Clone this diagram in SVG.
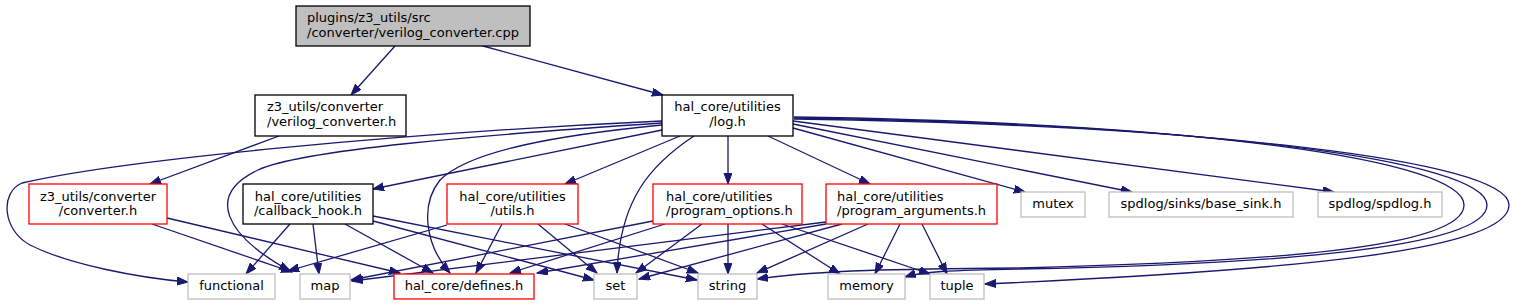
<svg xmlns="http://www.w3.org/2000/svg" width="1515" height="305" viewBox="0 0 1515 305">
<style>
text{font-family:"DejaVu Sans","Liberation Sans",sans-serif;font-size:13px;fill:#000}
.c{text-anchor:middle}
.box{fill:#fff;stroke-width:1.3}
.root{fill:#bfbfbf;stroke:#000;stroke-width:1.3}
.blk{stroke:#000}
.red{stroke:#ff0000}
.gry{stroke:#bfbfbf}
#edges path{fill:none;stroke:#191970;stroke-width:1.3;marker-end:url(#a)}
</style>
<defs>
<marker id="a" markerWidth="12" markerHeight="9" refX="11" refY="4" orient="auto" markerUnits="userSpaceOnUse">
<path d="M0,0 L11,4 L0,8 z" fill="#191970" stroke="#191970" stroke-width="1"/>
</marker>
</defs>
<g id="edges">
<path d="M395,46 L351,95"/>
<path d="M483,46 L663,95"/>
<path d="M279,136 L150,184"/>
<path d="M662,130 L373,189"/>
<path d="M680,136 L565,184"/>
<path d="M728,136 L728,184"/>
<path d="M768,136 L870,184"/>
<path d="M793,128 L1025,192"/>
<path d="M793,124 L1132,192"/>
<path d="M793,121 L1334,192"/>
<path d="M694,136 C650,165 620,200 617,273"/>
<path d="M662,125 C560,135 470,150 440,180 C420,205 425,245 450,273"/>
<path d="M662,123 C480,135 300,150 258,170 C205,195 225,235 290,271"/>
<path d="M662,121 C400,133 120,160 22,183 C0,192 2,230 30,245 C70,265 140,278 188,282"/>
<path d="M794,117 C1200,123 1464,160 1464,205 C1464,250 1250,262 1020,268 C900,269 820,270 757,279"/>
<path d="M794,118 C1200,124 1487,160 1487,205 C1487,250 1250,265 1020,269 C950,270 920,272 905,277"/>
<path d="M794,119 C1200,125 1509,160 1509,205 C1509,250 1300,270 985,284"/>
<path d="M152,224 L292,272"/>
<path d="M167,218 L400,273"/>
<path d="M290,224 L246,274"/>
<path d="M313,224 L319,274"/>
<path d="M345,224 L433,273"/>
<path d="M373,221 L594,280"/>
<path d="M373,216 L697,280"/>
<path d="M447,225 L288,271"/>
<path d="M502,224 L476,273"/>
<path d="M538,224 L597,273"/>
<path d="M565,224 L698,273"/>
<path d="M653,221 L351,280"/>
<path d="M665,224 L510,273"/>
<path d="M702,224 L636,273"/>
<path d="M728,224 L728,274"/>
<path d="M762,224 L840,274"/>
<path d="M782,224 L930,274"/>
<path d="M826,222 L352,281"/>
<path d="M826,224 L537,273"/>
<path d="M842,224 L639,279"/>
<path d="M868,224 L757,273"/>
<path d="M900,224 L875,274"/>
<path d="M922,224 L947,274"/>
</g>
<g id="root"><rect class="root" x="296" y="6" width="234" height="40"/><text x="307" y="22">plugins/z3_utils/src</text><text x="307" y="37">/converter/verilog_converter.cpp</text></g>
<g id="verilog_converter_h"><rect class="box blk" x="255" y="95" width="151" height="41"/><text x="267" y="111">z3_utils/converter</text><text x="267" y="126">/verilog_converter.h</text></g>
<g id="log_h"><rect class="box blk" x="662" y="95" width="131" height="41"/><text class="c" x="727.5" y="111">hal_core/utilities</text><text class="c" x="727.5" y="126">/log.h</text></g>
<g id="converter_h"><rect class="box red" x="29" y="184" width="138" height="40"/><text class="c" x="98" y="200.5">z3_utils/converter</text><text class="c" x="98" y="215">/converter.h</text></g>
<g id="callback_hook_h"><rect class="box blk" x="243" y="184" width="130" height="40"/><text class="c" x="308" y="200.5">hal_core/utilities</text><text class="c" x="308" y="215">/callback_hook.h</text></g>
<g id="utils_h"><rect class="box red" x="447" y="184" width="131" height="40"/><text class="c" x="512.5" y="200.5">hal_core/utilities</text><text class="c" x="512.5" y="215">/utils.h</text></g>
<g id="program_options_h"><rect class="box red" x="653" y="184" width="149" height="40"/><text x="666" y="200.5">hal_core/utilities</text><text x="666" y="215">/program_options.h</text></g>
<g id="program_arguments_h"><rect class="box red" x="826" y="184" width="171" height="40"/><text x="837" y="200.5">hal_core/utilities</text><text x="837" y="215">/program_arguments.h</text></g>
<g id="mutex"><rect class="box gry" x="1021" y="192" width="64" height="25"/><text class="c" x="1053" y="208">mutex</text></g>
<g id="base_sink_h"><rect class="box gry" x="1109" y="192" width="184" height="25"/><text class="c" x="1201" y="208">spdlog/sinks/base_sink.h</text></g>
<g id="spdlog_h"><rect class="box gry" x="1318" y="192" width="124" height="25"/><text class="c" x="1380" y="208">spdlog/spdlog.h</text></g>
<g id="functional"><rect class="box gry" x="188" y="274" width="87" height="25"/><text class="c" x="231.5" y="290">functional</text></g>
<g id="map"><rect class="box gry" x="300" y="274" width="50" height="25"/><text class="c" x="325" y="290">map</text></g>
<g id="defines_h"><rect class="box red" x="394" y="274" width="140" height="25"/><text class="c" x="464" y="290">hal_core/defines.h</text></g>
<g id="set"><rect class="box gry" x="594" y="274" width="43" height="25"/><text class="c" x="615.5" y="290">set</text></g>
<g id="string"><rect class="box gry" x="698" y="274" width="59" height="25"/><text class="c" x="727.5" y="290">string</text></g>
<g id="memory"><rect class="box gry" x="828" y="274" width="77" height="25"/><text class="c" x="866.5" y="290">memory</text></g>
<g id="tuple"><rect class="box gry" x="930" y="274" width="54" height="25"/><text class="c" x="957" y="290">tuple</text></g>
</svg>
